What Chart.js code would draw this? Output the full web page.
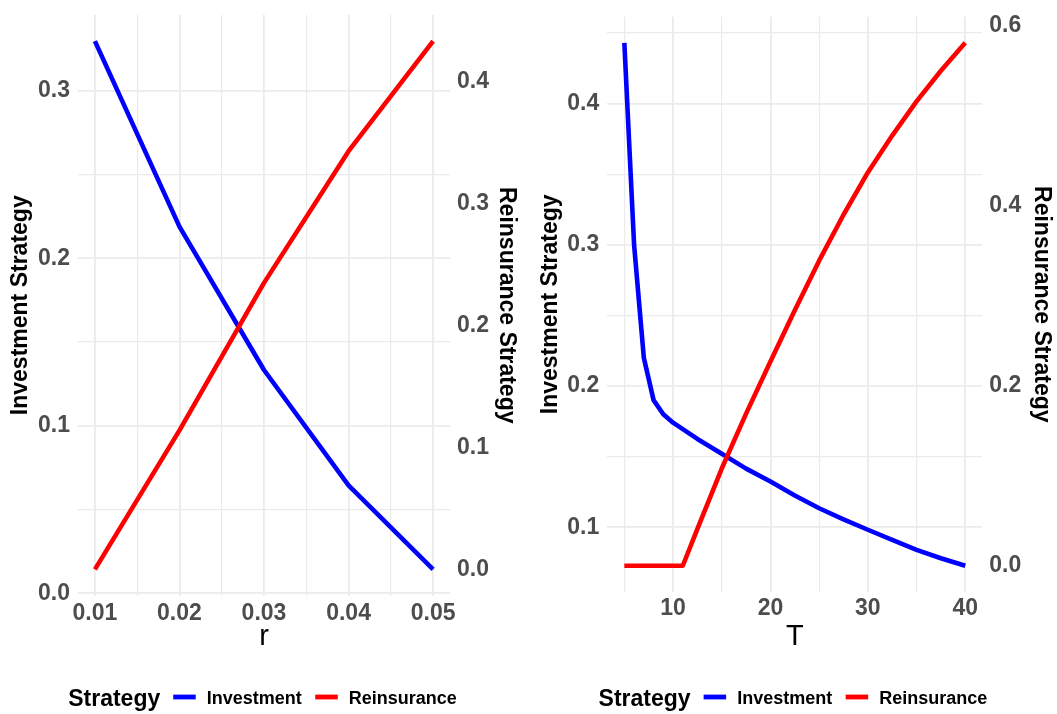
<!DOCTYPE html>
<html><head><meta charset="utf-8">
<script src="https://cdn.jsdelivr.net/npm/chart.js@4.4.0/dist/chart.umd.min.js"></script>
<style>
html,body{margin:0;padding:0;background:#fff;}
#wrap{position:relative;width:1057px;height:714px;overflow:hidden;background:#fff;}
.panel{position:absolute;top:0;height:714px;}
#p1{left:0;width:528px;}
#p2{left:528px;width:529px;}
</style></head><body>
<div id="wrap">
  <div class="panel" id="p1"><canvas id="c1"></canvas></div>
  <div class="panel" id="p2"><canvas id="c2"></canvas></div>
</div>
<script>
// ---------------- data ----------------
const seriesNames = ['Investment', 'Reinsurance'];
const legendTitle = 'Strategy';
const xTitles = ['r', 'T'];
const yTitleLeft = 'Investment Strategy';
const yTitleRight = 'Reinsurance Strategy';

// panel 1: strategies against r
const rValues = [0.01, 0.02, 0.03, 0.04, 0.05];
const investmentByR = [0.3296, 0.2189, 0.1333, 0.0645, 0.0143];
const reinsuranceByR = [0.000, 0.114, 0.235, 0.343, 0.4333];

// panel 2: strategies against T
const tValuesInvestment = [5, 6, 7, 8, 9, 10, 12.5, 15, 17.5, 20, 22.5, 25, 27.5, 30, 32.5, 35, 37.5, 40];
const investmentByT = [0.443, 0.300, 0.220, 0.190, 0.180, 0.174, 0.1625, 0.152, 0.1415, 0.1323, 0.1225, 0.1134, 0.1055, 0.0982, 0.091, 0.084, 0.078, 0.0727];
const tValuesReinsurance = [5, 6, 7, 8, 9, 10, 11, 12.5, 15, 17.5, 20, 22.5, 25, 27.5, 30, 32.5, 35, 37.5, 40];
const reinsuranceByT = [0, 0, 0, 0, 0, 0, 0, 0.041, 0.108, 0.169, 0.227, 0.284, 0.339, 0.390, 0.437, 0.478, 0.516, 0.550, 0.581];

// ticks
const rTickValues = [0.01, 0.02, 0.03, 0.04, 0.05];
const rTickLabels = ['0.01', '0.02', '0.03', '0.04', '0.05'];
const rMinorGrid = [0.015, 0.025, 0.035, 0.045];
const invRTickValues = [0, 0.1, 0.2, 0.3];
const invRTickLabels = ['0.0', '0.1', '0.2', '0.3'];
const invRMinorGrid = [0.05, 0.15, 0.25];
const reRTickValues = [0, 0.1, 0.2, 0.3, 0.4];
const reRTickLabels = ['0.0', '0.1', '0.2', '0.3', '0.4'];

const tTickValues = [10, 20, 30, 40];
const tTickLabels = ['10', '20', '30', '40'];
const tMinorGrid = [5, 15, 25, 35];
const invTTickValues = [0.1, 0.2, 0.3, 0.4];
const invTTickLabels = ['0.1', '0.2', '0.3', '0.4'];
const invTMinorGrid = [0.15, 0.25, 0.35, 0.45];
const reTTickValues = [0, 0.2, 0.4, 0.6];
const reTTickLabels = ['0.0', '0.2', '0.4', '0.6'];

// ---------------- helpers ----------------
const FAMILY = '"Liberation Sans", Arial, Helvetica, sans-serif';
const GRID = '#EBEBEB';
const TICK_COLOR = '#4D4D4D';

function expandRange(arr, frac) {
  const lo = Math.min(...arr), hi = Math.max(...arr), d = (hi - lo) * frac;
  return [lo - d, hi + d];
}
function near(a, b) { return Math.abs(a - b) < 1e-9; }
function tickSetter(major, minor) {
  return function (scale) {
    const all = major.concat(minor || []).sort((a, b) => a - b);
    scale.ticks = all.map(v => ({ value: v }));
  };
}
function labeler(major, labels) {
  return function (value) {
    const i = major.findIndex(v => near(v, value));
    return i >= 0 ? labels[i] : '';
  };
}

const ggLegend = {
  id: 'ggLegend',
  afterDraw(chart, args, o) {
    const ctx = chart.ctx;
    ctx.save();
    const titleFont = 'bold 23px ' + FAMILY;
    const labelFont = 'bold 18px ' + FAMILY;
    ctx.font = titleFont;
    const tw = ctx.measureText(o.title).width;
    ctx.font = labelFont;
    const lw = o.items.map(it => ctx.measureText(it.text).width);
    const gapTitle = 13, keyW = 22.5, gapKey = 11, gapItem = 13.5;
    let total = tw;
    o.items.forEach((it, i) => { total += (i === 0 ? gapTitle : gapItem) + keyW + gapKey + lw[i]; });
    let x = o.centerX - total / 2;
    ctx.fillStyle = '#000';
    ctx.textBaseline = 'alphabetic';
    ctx.textAlign = 'left';
    ctx.font = titleFont;
    ctx.fillText(o.title, x, o.titleBaseline);
    x += tw;
    o.items.forEach((it, i) => {
      x += (i === 0 ? gapTitle : gapItem);
      ctx.fillStyle = it.color;
      ctx.fillRect(x, o.keyY - 2.4, keyW, 4.8);
      x += keyW + gapKey;
      ctx.fillStyle = '#000';
      ctx.font = labelFont;
      ctx.fillText(it.text, x, o.labelBaseline);
      x += lw[i];
    });
    ctx.restore();
  }
};

function buildChart(canvasId, c) {
  const [yMin, yMax] = expandRange(c.inv, 0.05);
  const invLo = Math.min(...c.inv), invHi = Math.max(...c.inv);
  const reLo = Math.min(...c.re), reHi = Math.max(...c.re);
  const k = (invHi - invLo) / (reHi - reLo);
  const y1Min = (yMin - invLo) / k + reLo;
  const y1Max = (yMax - invLo) / k + reLo;
  const [xMin, xMax] = expandRange(c.xInv.concat(c.xRe), 0.05);

  const tickFont = { family: FAMILY, size: 23, weight: 'bold' };
  const titleFont = { family: FAMILY, size: 23, weight: 'bold' };

  return new Chart(document.getElementById(canvasId), {
    type: 'line',
    data: {
      datasets: [
        {
          label: seriesNames[0],
          data: c.xInv.map((x, i) => ({ x: x, y: c.inv[i] })),
          borderColor: '#0000FF', backgroundColor: '#0000FF',
          borderWidth: 4.6, pointRadius: 0, tension: 0, fill: false,
          borderJoinStyle: 'round', yAxisID: 'y', order: 1
        },
        {
          label: seriesNames[1],
          data: c.xRe.map((x, i) => ({ x: x, y: c.re[i] })),
          borderColor: '#FF0000', backgroundColor: '#FF0000',
          borderWidth: 4.6, pointRadius: 0, tension: 0, fill: false,
          borderJoinStyle: 'round', yAxisID: 'y1', order: 0
        }
      ]
    },
    options: {
      responsive: true, maintainAspectRatio: false, animation: false,
      events: [],
      layout: { padding: { left: 0, right: 0, top: c.top, bottom: c.bottomPad } },
      plugins: {
        legend: { display: false },
        tooltip: { enabled: false },
        ggLegend: {
          title: legendTitle,
          items: [{ text: seriesNames[0], color: '#0000FF' }, { text: seriesNames[1], color: '#FF0000' }],
          centerX: c.legendCenter, titleBaseline: 706, labelBaseline: 704, keyY: 697
        }
      },
      scales: {
        x: {
          type: 'linear', position: 'bottom', min: xMin, max: xMax,
          afterBuildTicks: tickSetter(c.xTicks, c.xMinor),
          afterFit: s => { s.height = 70; s.paddingLeft = 0; s.paddingRight = 0; },
          ticks: { autoSkip: false, maxRotation: 0, padding: c.xTickPad, color: TICK_COLOR, font: tickFont,
                   callback: labeler(c.xTicks, c.xLabels) },
          grid: { color: GRID, drawTicks: false,
                  lineWidth: ctx => (ctx.tick && c.xTicks.some(v => near(v, ctx.tick.value))) ? 1.8 : 1.2 },
          border: { display: false },
          title: { display: true, text: c.xTitle, color: '#000',
                   font: { family: FAMILY, size: 29, weight: 'normal' },
                   padding: { top: 0, bottom: c.xTitlePad } }
        },
        y: {
          type: 'linear', position: 'left', min: yMin, max: yMax,
          afterBuildTicks: tickSetter(c.yTicks, c.yMinor),
          afterFit: s => { s.width = c.yWidth; s.paddingTop = 0; s.paddingBottom = 0; },
          ticks: { autoSkip: false, padding: 8, color: TICK_COLOR, font: tickFont,
                   callback: labeler(c.yTicks, c.yLabels) },
          grid: { color: GRID, drawTicks: false,
                  lineWidth: ctx => (ctx.tick && c.yTicks.some(v => near(v, ctx.tick.value))) ? 1.8 : 1.2 },
          border: { display: false },
          title: { display: true, text: yTitleLeft, color: '#000', font: titleFont,
                   padding: { top: c.yTitlePad, bottom: 0 } }
        },
        y1: {
          type: 'linear', position: 'right', min: y1Min, max: y1Max,
          afterBuildTicks: tickSetter(c.y1Ticks, []),
          afterFit: s => { s.width = c.y1Width; s.paddingTop = 0; s.paddingBottom = 0; },
          ticks: { autoSkip: false, padding: 7, color: TICK_COLOR, font: tickFont,
                   callback: labeler(c.y1Ticks, c.y1Labels) },
          grid: { display: false, drawTicks: false },
          border: { display: false },
          title: { display: true, text: yTitleRight, color: '#000', font: titleFont,
                   padding: { top: c.y1TitlePad, bottom: 0 } }
        }
      }
    },
    plugins: [ggLegend]
  });
}

buildChart('c1', {
  xInv: rValues, inv: investmentByR, xRe: rValues, re: reinsuranceByR,
  xTicks: rTickValues, xLabels: rTickLabels, xMinor: rMinorGrid,
  yTicks: invRTickValues, yLabels: invRTickLabels, yMinor: invRMinorGrid,
  y1Ticks: reRTickValues, y1Labels: reRTickLabels,
  xTitle: xTitles[0],
  top: 14.7, bottomPad: 714 - 595.8 - 70,
  yWidth: 78, y1Width: 78,
  yTitlePad: 6.4, y1TitlePad: 7.7, xTitlePad: 11.7, xTickPad: 4.5,
  legendCenter: 262.5
});

buildChart('c2', {
  xInv: tValuesInvestment, inv: investmentByT, xRe: tValuesReinsurance, re: reinsuranceByT,
  xTicks: tTickValues, xLabels: tTickLabels, xMinor: tMinorGrid,
  yTicks: invTTickValues, yLabels: invTTickLabels, yMinor: invTMinorGrid,
  y1Ticks: reTTickValues, y1Labels: reTTickLabels,
  xTitle: xTitles[1],
  top: 16.7, bottomPad: 714 - 591.9 - 70,
  yWidth: 79.3, y1Width: 74.7,
  yTitlePad: 8.4, y1TitlePad: 1.7, xTitlePad: 7.2, xTickPad: 3,
  legendCenter: 264.9
});
</script>
</body></html>
